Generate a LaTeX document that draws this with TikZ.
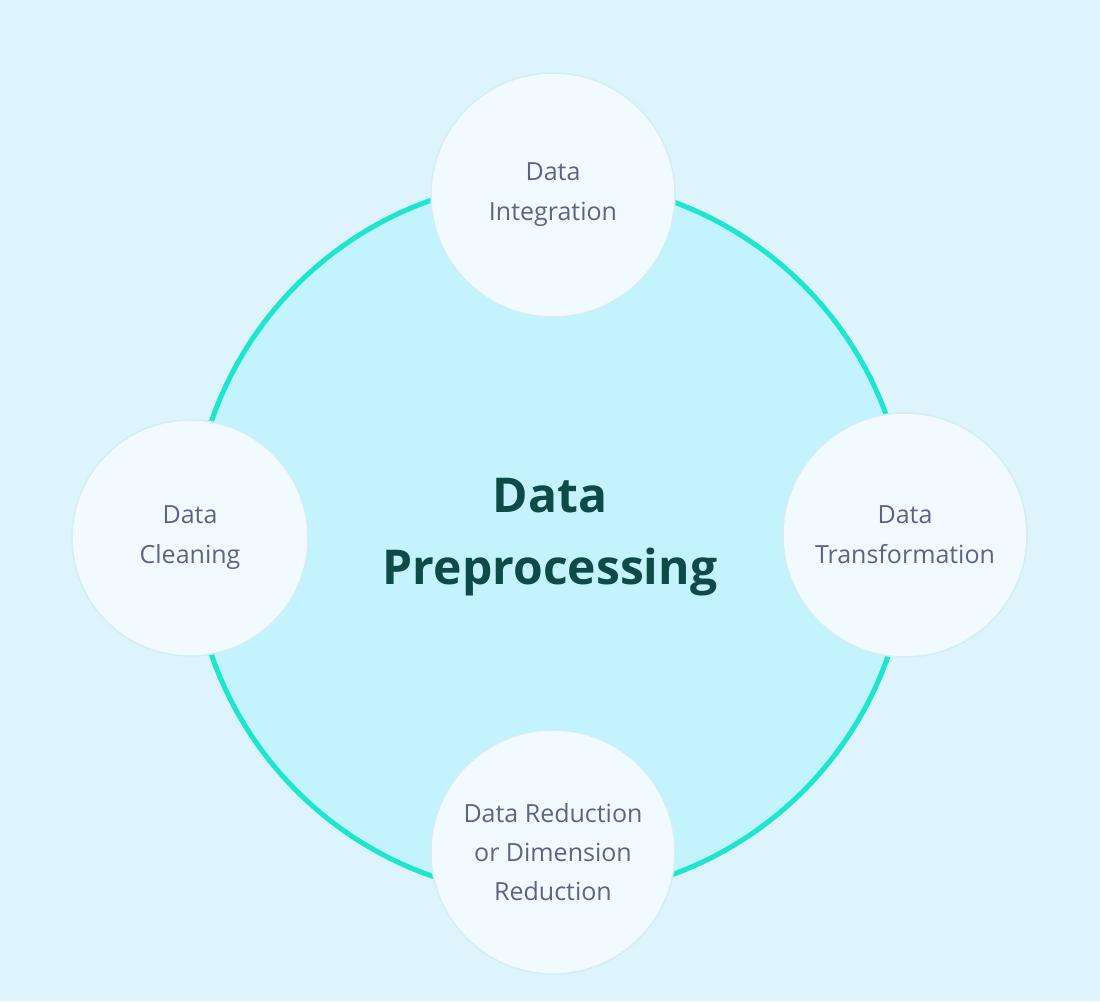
\documentclass[tikz,border=0pt]{standalone}
\usepackage{fontspec}
\setmainfont{Open Sans}
\definecolor{bg}{HTML}{DEF4FD}
\definecolor{bigfill}{HTML}{C3F3FD}
\definecolor{ring}{HTML}{1DE6CF}
\definecolor{smallfill}{HTML}{F1FBFF}
\definecolor{halo}{HTML}{D4EEF6}
\definecolor{lbl}{HTML}{5B6486}
\definecolor{title}{HTML}{0E4A48}
\begin{document}
\begin{tikzpicture}[x=1pt,y=-1pt,
  small/.style={circle,fill=smallfill,draw=halo,line width=1.5pt,minimum size=244pt,inner sep=0pt,align=center,
    text=lbl,font=\fontsize{25}{40}\selectfont}]
\fill[bg] (0,0) rectangle (1100,1001);
\useasboundingbox (0,0) rectangle (1100,1001);
\draw[ring,line width=5pt,fill=bigfill] (550,538) circle (358);
\node[align=center,text=title,font=\fontsize{48}{72}\selectfont\bfseries] (center) at (550,537) {Data\\Preprocessing};
\node[small] (integ) at (553,195) {Data\\Integration};
\node[small,minimum size=236pt] (clean) at (190,538) {Data\\Cleaning};
\node[small] (trans) at (905,535) {Data\\Transformation};
\node[small,font=\fontsize{25}{39}\selectfont] (red) at (553,852) {Data Reduction\\or Dimension\\Reduction};
\end{tikzpicture}
\end{document}
